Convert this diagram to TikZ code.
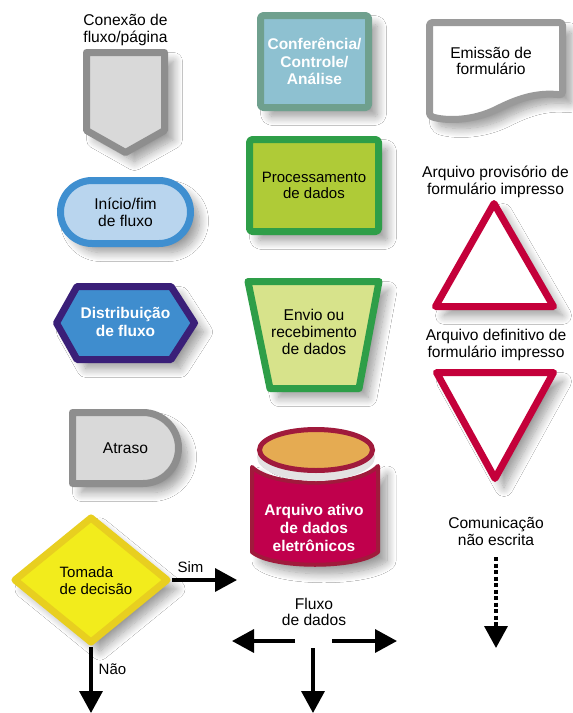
\documentclass[tikz,border=0pt]{standalone}
\usepackage{fontspec}
\setmainfont{Liberation Sans}
\usetikzlibrary{arrows.meta,shapes.misc,shapes.geometric,shadows.blur}
\definecolor{cgray}{HTML}{D9D9D9}
\definecolor{cgrayL}{HTML}{8E8E8E}
\definecolor{cdocL}{HTML}{9A9A9A}
\definecolor{cteal}{HTML}{8EC1D1}
\definecolor{ctealL}{HTML}{6FA08E}
\definecolor{cblue}{HTML}{B9D5EE}
\definecolor{cblueL}{HTML}{3F8FD0}
\definecolor{chex}{HTML}{3F8DCE}
\definecolor{chexL}{HTML}{3A1F78}
\definecolor{cgreen}{HTML}{AFCB37}
\definecolor{cgreenP}{HTML}{D7E38B}
\definecolor{cgreenL}{HTML}{2E9E48}
\definecolor{cred}{HTML}{C4003A}
\definecolor{cyell}{HTML}{F2EC1C}
\definecolor{cyellL}{HTML}{E8CF20}
\definecolor{ccyl}{HTML}{C0004C}
\definecolor{ccylL}{HTML}{A01A3C}
\definecolor{ccylT}{HTML}{E5AB52}
\tikzset{
  every node/.style={font=\fontsize{15.6}{16.8}\selectfont, align=center, inner sep=0pt},
  shd/.style ={blur shadow={shadow xshift=9pt, shadow yshift=-9pt, shadow blur radius=9pt,
               shadow blur steps=12, shadow opacity=40}},
  shp/.style ={line width=7pt, line join=round, shd},
  gry/.style ={shp, draw=cgrayL, fill=cgray},
  doc/.style ={shp, draw=cdocL, fill=white, rounded corners=3pt},
  tri/.style ={shp, draw=cred, fill=white},
  hexa/.style={shp, draw=chexL, fill=chex},
  trap/.style={shp, draw=cgreenL, fill=cgreenP},
  conf/.style={rectangle, shp, draw=ctealL, fill=cteal, rounded corners=3pt, lblw},
  proc/.style={rectangle, shp, draw=cgreenL, fill=cgreen, rounded corners=3pt, lbls},
  stad/.style={rounded rectangle, shp, draw=cblueL, fill=cblue, lbl},
  dmd/.style ={diamond, shp, draw=cyellL, fill=cyell},
  cylb/.style={line width=4pt, line join=round, draw=ccylL, fill=ccyl, shd},
  cylt/.style={line width=5pt, draw=ccylL, fill=ccylT},
  lbl/.style ={text=black},
  lbls/.style={text=black, font=\fontsize{15}{16.8}\selectfont},
  lblw/.style={text=white, font=\fontsize{15.5}{17.6}\selectfont\bfseries},
  ar/.style  ={-{Triangle[width=23pt,length=22pt]}, line width=3.5pt, draw=black},
  ard/.style ={ar, dash pattern=on 4pt off 2.5pt},
}

\begin{document}
\begin{tikzpicture}[x=1pt, y=-1pt]
\fill[white] (0,0) rectangle (573,713);
\useasboundingbox (0,0) rectangle (573,713);

% ---------------- left column -----------------------------------------------
\node[lbl] (conex) at (125.5,30) {Conexão de\\fluxo/página};
\draw[gry] (86.5,52.5) -- (164.5,52.5) -- (164.5,130.5) -- (125.5,152.5)
  -- (86.5,130.5) -- cycle;

\node[stad, minimum width=130pt, minimum height=63pt] (inicio) at (125.5,212)
  {Início/fim\\de fluxo};

\draw[hexa] (56.5,323) -- (77,286.5) -- (171,286.5) -- (194.5,323)
  -- (171,359.5) -- (77,359.5) -- cycle;
\node[lblw] (distr) at (125.5,322) {Distribuição\\de fluxo};

\draw[gry] (72.5,412.5) -- (143,412.5) arc[start angle=-90, end angle=90, radius=35.5]
  -- (72.5,483.5) -- cycle;
\node[lbl] (atraso) at (125.5,448) {Atraso};

% decision
\node[dmd, minimum width=155pt, minimum height=127pt] (decisao) at (91,580) {};
\node[lbls, align=left] (decis) at (96,581) {Tomada\\de decisão};
\coordinate (simend) at (237,580);
\coordinate (naoend) at (91,713);
\draw[ar] (decisao.east) -- (simend);
\draw[ar] (decisao.south) -- (naoend);
\node[lbls] (sim) at (190.5,567) {Sim};
\node[lbls] (nao) at (112.5,669) {Não};

% ---------------- middle column ---------------------------------------------
\node[conf, minimum width=108pt, minimum height=92pt] (confer) at (314.5,61.5)
  {Conferência/\\Controle/\\Análise};

\node[proc, minimum width=129pt, minimum height=92pt] (proces) at (314,185.5)
  {Processamento\\de dados};

\draw[trap] (248,281.5) -- (379,281.5) -- (359,388.5) -- (270,388.5) -- cycle;
\node[lbl] (envio) at (314,332) {Envio ou\\recebimento\\de dados};

% cylinder
\draw[cylb] (252,467) -- (252,552) .. controls (272,569) and (358,569) .. (378,552)
  -- (378,466) .. controls (358,488) and (272,488) .. cycle;
\fill[gray!22] (316,457) ellipse[x radius=59, y radius=24];
\draw[cylt] (316,450) ellipse[x radius=56.5, y radius=20.5];
\node[lblw] (arqativo) at (314,528) {Arquivo ativo\\de dados\\eletrônicos};

% data flow
\node[lbl] (fluxo) at (314,612) {Fluxo\\de dados};
\coordinate (fxl0) at (295,641);
\coordinate (fxl1) at (232,641);
\coordinate (fxr0) at (332,641);
\coordinate (fxr1) at (397,641);
\coordinate (fxd0) at (313,648);
\coordinate (fxd1) at (313,713);
\draw[ar] (fxl0) -- (fxl1);
\draw[ar] (fxr0) -- (fxr1);
\draw[ar] (fxd0) -- (fxd1);

% ---------------- right column ----------------------------------------------
\draw[doc] (429.5,22.5) -- (562.5,22.5) -- (562.5,95)
  .. controls (535,92) and (515,100) .. (495,110)
  .. controls (470,121) and (445,121) .. (429.5,116) -- cycle;
\node[lbl] (emissao) at (491,61) {Emissão de\\formulário};

\node[lbl] (provis) at (495.5,181.5) {Arquivo provisório de\\formulário impresso};
\draw[tri] (494,203.5) -- (553.5,306.5) -- (435.5,306.5) -- cycle;

\node[lbl] (defin) at (496,345) {Arquivo definitivo de\\formulário impresso};
\draw[tri] (436.5,372.5) -- (553.5,372.5) -- (495,478.5) -- cycle;

\node[lbl] (comun) at (496,531.5) {Comunicação\\não escrita};
\coordinate (com0) at (496,557);
\coordinate (com1) at (496,648);
\draw[ard] (com0) -- (com1);

\end{tikzpicture}
\end{document}
